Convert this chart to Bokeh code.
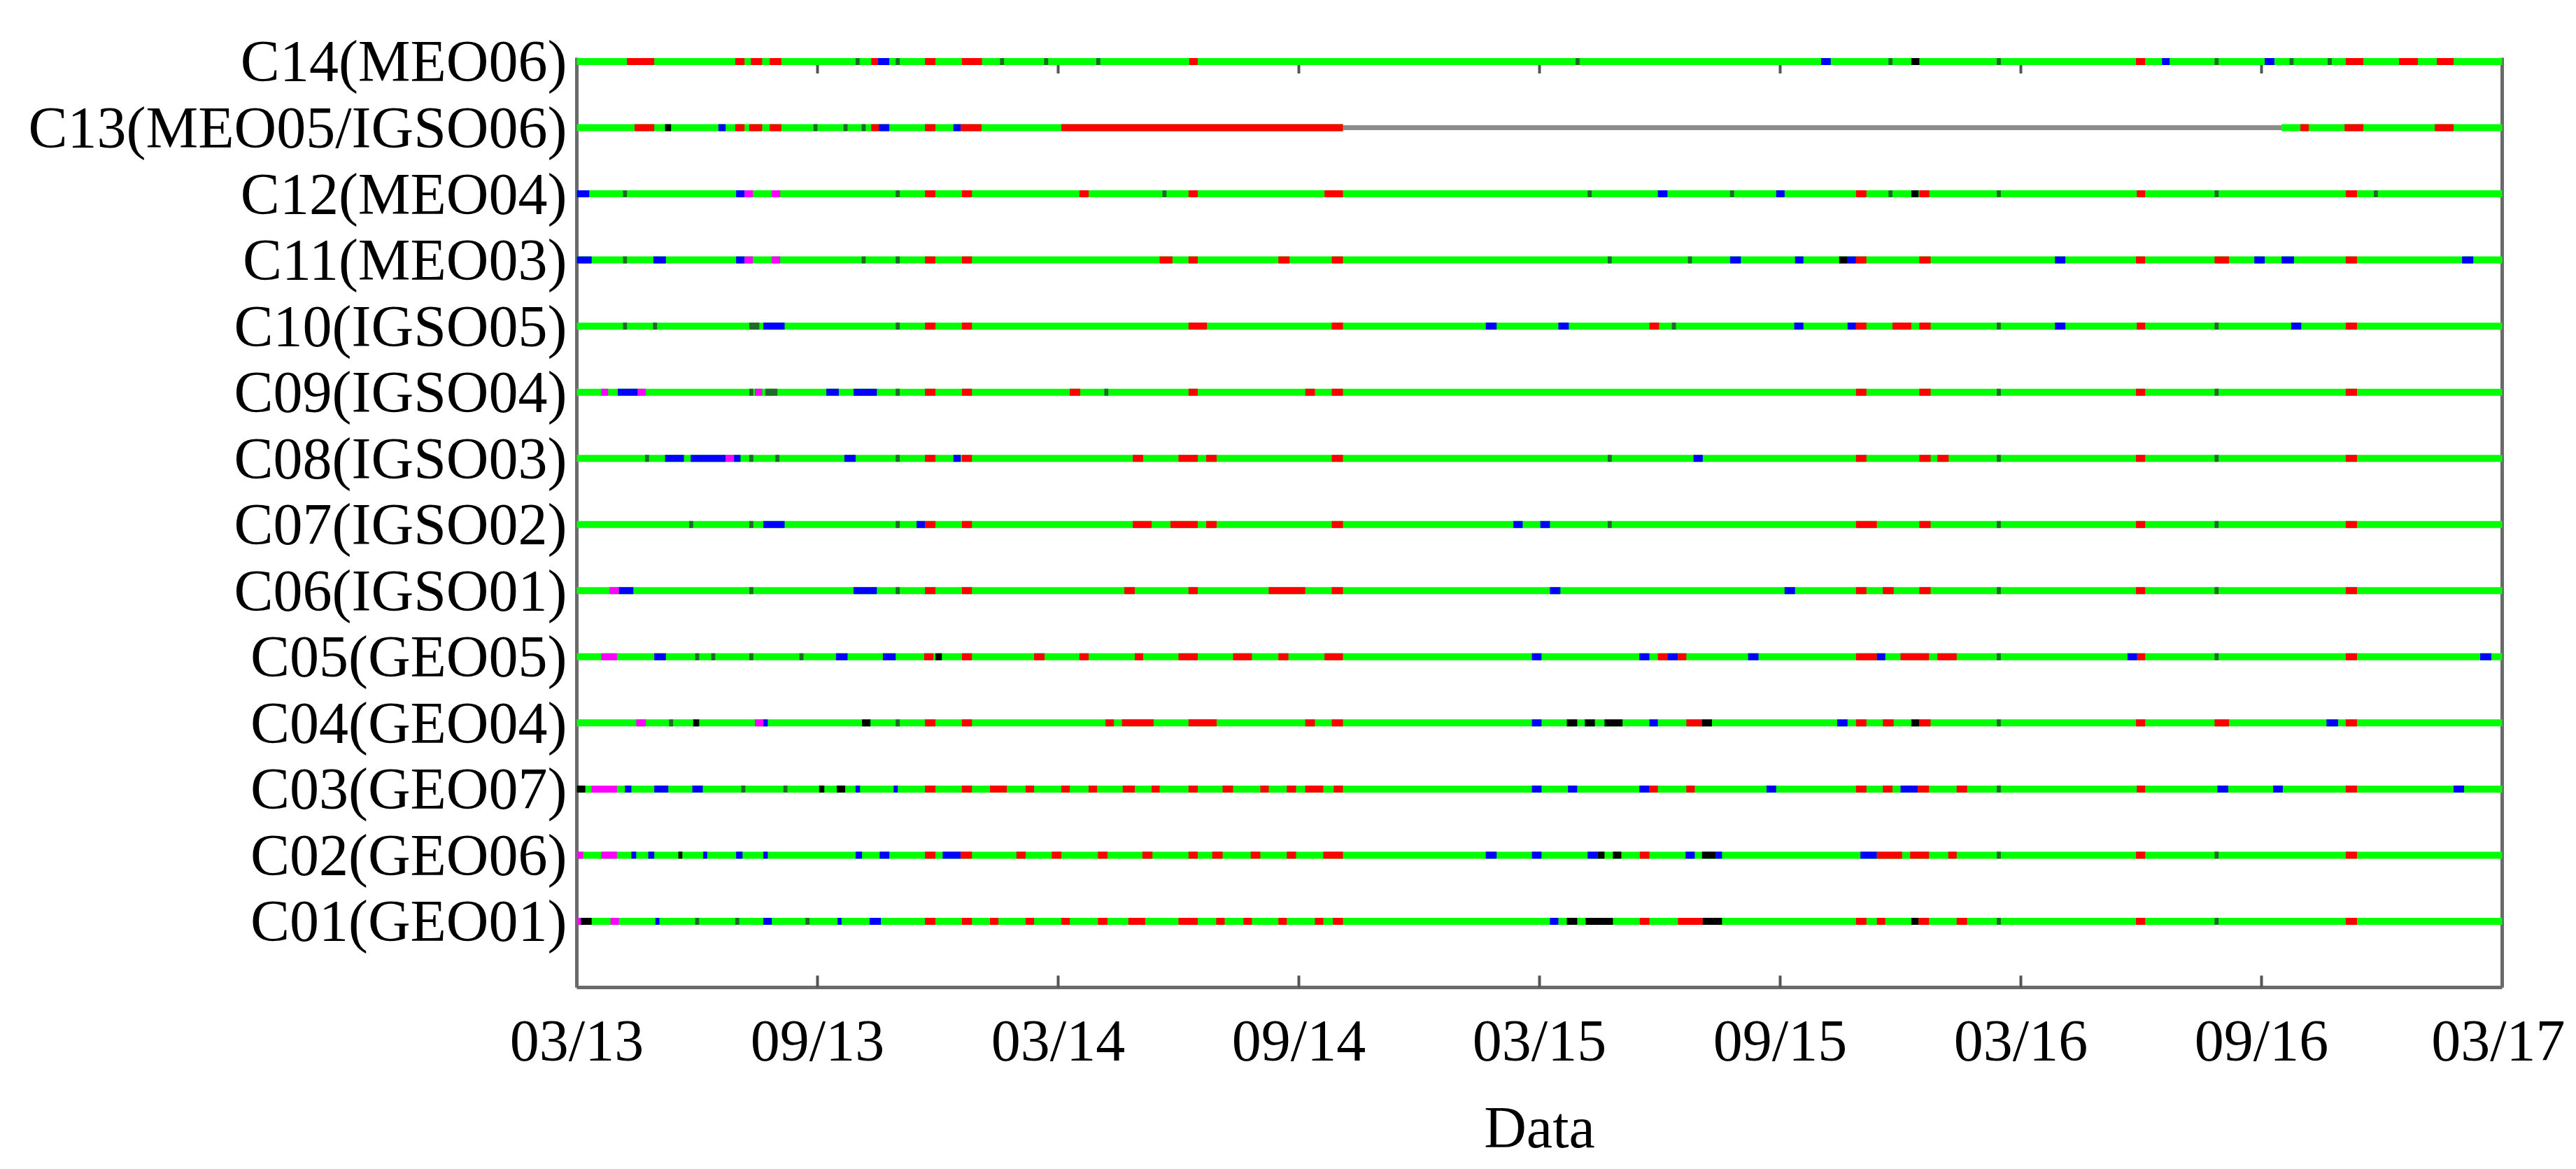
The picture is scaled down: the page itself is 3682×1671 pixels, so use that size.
from bokeh.plotting import figure
from bokeh.models import ColumnDataSource, Range1d, FixedTicker, LinearAxis
from bokeh.embed import file_html
from bokeh.resources import INLINE

# x = months since March 2013 (0 .. 48 = March 2017)
TICKS = [0, 6, 12, 18, 24, 30, 36, 42, 48]
TICK_LABELS = ["03/13", "09/13", "03/14", "09/14", "03/15", "09/15", "03/16", "09/16", "03/17"]

SATS = ["C01(GEO01)", "C02(GEO06)", "C03(GEO07)", "C04(GEO04)", "C05(GEO05)",
        "C06(IGSO01)", "C07(IGSO02)", "C08(IGSO03)", "C09(IGSO04)", "C10(IGSO05)",
        "C11(MEO03)", "C12(MEO04)", "C13(MEO05/IGSO06)", "C14(MEO06)"]

START, END = 0, 48
C13_GAP = (19.1, 42.5)   # no data (grey)

# status segments: (start month, end month, code)
C14 = [(1.25,1.93,"r"),(3.95,4.18,"r"),(4.34,4.62,"r"),(4.81,5.10,"r"),(6.95,7.05,"d"),(7.34,7.51,"r"),(7.51,7.79,"b"),
       (7.95,8.05,"d"),(8.68,8.94,"r"),(9.6,10.1,"r"),(10.55,10.65,"d"),(11.65,11.75,"d"),(12.95,13.05,"d"),(15.27,15.48,"r"),
       (24.9,25.0,"d"),(31.02,31.26,"b"),(32.7,32.8,"d"),(33.27,33.47,"k"),(35.4,35.5,"d"),(38.87,39.1,"r"),(39.52,39.71,"b"),
       (40.83,40.93,"d"),(42.08,42.32,"b"),(42.7,42.8,"d"),(43.65,43.75,"d"),(44.1,44.54,"r"),(45.43,45.9,"r"),(46.37,46.79,"r")]
C13 = [(1.44,1.93,"r"),(2.2,2.35,"k"),(3.53,3.71,"b"),(3.95,4.18,"r"),(4.3,4.62,"r"),(4.81,5.10,"r"),(5.9,6.0,"d"),
       (6.65,6.75,"d"),(7.1,7.2,"d"),(7.34,7.53,"r"),(7.53,7.79,"b"),(8.68,8.94,"r"),(9.39,9.57,"b"),(9.57,10.09,"r"),
       (12.08,19.1,"r"),(42.97,43.18,"r"),(44.07,44.54,"r"),(46.32,46.79,"r")]
C12 = [(0,0.31,"b"),(1.15,1.25,"d"),(3.97,4.18,"b"),(4.18,4.39,"m"),(4.86,5.07,"m"),(7.95,8.05,"d"),(8.68,8.94,"r"),
       (9.6,9.85,"r"),(12.53,12.76,"r"),(14.6,14.7,"d"),(15.25,15.48,"r"),(18.64,19.1,"r"),(25.2,25.3,"d"),(26.95,27.19,"b"),
       (28.75,28.85,"d"),(29.9,30.11,"b"),(31.89,32.15,"r"),(32.7,32.8,"d"),(33.27,33.45,"k"),(33.47,33.72,"r"),
       (35.4,35.5,"d"),(38.89,39.1,"r"),(40.83,40.93,"d"),(44.1,44.38,"r"),(44.8,44.9,"d")]
C11 = [(0,0.37,"b"),(1.15,1.25,"d"),(1.91,2.22,"b"),(3.97,4.18,"b"),(4.18,4.39,"m"),(4.86,5.07,"m"),(7.1,7.2,"d"),
       (7.95,8.05,"d"),(8.68,8.94,"r"),(9.6,9.85,"r"),(14.53,14.85,"r"),(15.25,15.48,"r"),(17.49,17.77,"r"),(18.82,19.1,"r"),
       (25.7,25.8,"d"),(27.7,27.8,"d"),(28.75,29.02,"b"),(30.37,30.58,"b"),(31.47,31.68,"k"),(31.68,31.89,"b"),
       (31.89,32.15,"r"),(33.47,33.75,"r"),(36.85,37.11,"b"),(38.87,39.1,"r"),(40.83,41.19,"r"),(41.82,42.08,"b"),
       (42.5,42.81,"b"),(44.1,44.38,"r"),(47.0,47.28,"b")]
C10 = [(1.15,1.25,"d"),(1.9,2.0,"d"),(4.3,4.55,"d"),(4.65,5.18,"b"),(7.95,8.05,"d"),(8.68,8.94,"r"),(9.6,9.85,"r"),
       (15.25,15.71,"r"),(18.82,19.1,"r"),(22.66,22.93,"b"),(24.47,24.73,"b"),(26.74,26.98,"r"),(27.3,27.4,"d"),
       (30.35,30.58,"b"),(31.68,31.89,"b"),(31.89,32.15,"r"),(32.8,33.27,"r"),(33.47,33.75,"r"),(35.4,35.5,"d"),
       (36.85,37.11,"b"),(38.89,39.1,"r"),(40.83,40.93,"d"),(42.74,42.99,"b"),(44.1,44.38,"r")]
C09 = [(0.61,0.78,"m"),(1.02,1.52,"b"),(1.52,1.72,"m"),(4.3,4.4,"d"),(4.44,4.62,"m"),(4.7,5.0,"d"),(6.22,6.53,"b"),
       (6.9,7.48,"b"),(7.95,8.05,"d"),(8.68,8.94,"r"),(9.6,9.85,"r"),(12.29,12.55,"r"),(13.15,13.25,"d"),(15.25,15.48,"r"),
       (18.16,18.4,"r"),(18.82,19.1,"r"),(31.89,32.15,"r"),(33.47,33.75,"r"),(35.4,35.5,"d"),(38.87,39.1,"r"),
       (40.83,40.93,"d"),(44.1,44.38,"r")]
C08 = [(1.7,1.8,"d"),(2.2,2.67,"b"),(2.84,3.71,"b"),(3.71,3.92,"m"),(3.92,4.08,"b"),(4.3,4.4,"d"),(4.95,5.05,"d"),
       (6.67,6.95,"b"),(7.95,8.05,"d"),(8.68,8.94,"r"),(9.39,9.57,"b"),(9.6,9.85,"r"),(13.86,14.12,"r"),(15.0,15.48,"r"),
       (15.69,15.95,"r"),(18.82,19.1,"r"),(25.7,25.8,"d"),(27.84,28.07,"b"),(31.89,32.15,"r"),(33.47,33.75,"r"),
       (33.92,34.2,"r"),(35.4,35.5,"d"),(38.87,39.1,"r"),(40.83,40.93,"d"),(44.1,44.38,"r")]
C07 = [(2.8,2.9,"d"),(4.3,4.4,"d"),(4.65,5.18,"b"),(7.95,8.05,"d"),(8.47,8.68,"b"),(8.68,8.94,"r"),(9.6,9.85,"r"),
       (13.86,14.33,"r"),(14.8,15.48,"r"),(15.69,15.95,"r"),(18.82,19.1,"r"),(23.35,23.58,"b"),(24.02,24.26,"b"),
       (25.7,25.8,"d"),(31.89,32.41,"r"),(33.47,33.75,"r"),(35.4,35.5,"d"),(38.87,39.1,"r"),(40.83,40.93,"d"),
       (44.1,44.38,"r")]
C06 = [(0.82,1.05,"m"),(1.05,1.41,"b"),(4.3,4.4,"d"),(6.9,7.48,"b"),(7.95,8.05,"d"),(8.68,8.94,"r"),(9.6,9.85,"r"),
       (13.65,13.91,"r"),(15.25,15.48,"r"),(17.25,18.16,"r"),(18.82,19.1,"r"),(24.26,24.52,"b"),(30.11,30.37,"b"),
       (31.89,32.15,"r"),(32.56,32.83,"r"),(33.47,33.75,"r"),(35.4,35.5,"d"),(38.87,39.1,"r"),(40.83,40.93,"d"),
       (44.1,44.38,"r")]
C05 = [(0.61,1.0,"m"),(1.93,2.22,"b"),(2.95,3.05,"d"),(3.35,3.45,"d"),(4.3,4.4,"d"),(5.55,5.65,"d"),(6.46,6.75,"b"),
       (7.63,7.95,"b"),(8.66,8.89,"r"),(8.94,9.1,"k"),(9.6,9.85,"r"),(11.4,11.66,"r"),(12.53,12.76,"r"),(13.91,14.12,"r"),
       (15.0,15.48,"r"),(16.36,16.83,"r"),(17.49,17.74,"r"),(18.64,19.1,"r"),(23.81,24.05,"b"),(26.49,26.74,"b"),
       (26.95,27.19,"r"),(27.19,27.45,"b"),(27.45,27.66,"r"),(29.2,29.46,"b"),(31.89,32.41,"r"),(32.41,32.62,"b"),
       (33.0,33.71,"r"),(33.92,34.4,"r"),(35.4,35.5,"d"),(38.66,38.9,"b"),(38.9,39.1,"r"),(40.83,40.93,"d"),
       (44.1,44.38,"r"),(47.45,47.73,"b")]
C04 = [(1.48,1.72,"m"),(2.3,2.4,"d"),(2.9,3.05,"k"),(4.44,4.65,"m"),(4.65,4.76,"b"),(7.11,7.32,"k"),(7.95,8.05,"d"),
       (8.68,8.94,"r"),(9.6,9.85,"r"),(13.18,13.39,"r"),(13.59,14.38,"r"),(15.25,15.95,"r"),(18.16,18.4,"r"),
       (18.82,19.1,"r"),(23.81,24.05,"b"),(24.68,24.94,"k"),(25.13,25.38,"k"),(25.62,26.07,"k"),(26.74,26.95,"b"),
       (27.66,28.05,"r"),(28.05,28.3,"k"),(31.42,31.68,"b"),(31.89,32.15,"r"),(32.56,32.83,"r"),(33.27,33.47,"k"),
       (33.47,33.75,"r"),(35.4,35.5,"d"),(38.87,39.1,"r"),(40.83,41.19,"r"),(43.62,43.91,"b"),(44.1,44.38,"r")]
C03 = [(0,0.21,"k"),(0.37,1.0,"m"),(1.2,1.36,"b"),(1.93,2.28,"b"),(2.88,3.14,"b"),(4.1,4.2,"d"),(5.15,5.25,"d"),
       (6.04,6.17,"k"),(6.48,6.69,"k"),(6.95,7.06,"b"),(7.9,8.0,"b"),(8.68,8.94,"r"),(9.6,9.85,"r"),(10.3,10.72,"r"),
       (11.19,11.4,"r"),(12.08,12.29,"r"),(12.76,12.97,"r"),(13.61,13.91,"r"),(14.33,14.53,"r"),(15.25,15.48,"r"),
       (16.1,16.36,"r"),(17.04,17.25,"r"),(17.7,17.93,"r"),(18.16,18.61,"r"),(18.87,19.1,"r"),(23.81,24.05,"b"),
       (24.71,24.94,"b"),(26.49,26.74,"b"),(26.74,26.95,"r"),(27.66,27.87,"r"),(29.66,29.9,"b"),(31.89,32.15,"r"),
       (32.56,32.8,"r"),(33.0,33.43,"b"),(33.43,33.71,"r"),(34.4,34.66,"r"),(35.4,35.5,"d"),(38.89,39.1,"r"),
       (40.9,41.17,"b"),(42.29,42.53,"b"),(44.1,44.38,"r"),(46.79,47.05,"b")]
C02 = [(0,0.16,"m"),(0.61,1.0,"m"),(1.36,1.48,"b"),(1.78,1.93,"b"),(2.53,2.63,"k"),(3.15,3.25,"b"),(3.97,4.13,"b"),
       (4.65,4.76,"b"),(6.95,7.11,"b"),(7.55,7.79,"b"),(8.68,8.94,"r"),(9.12,9.57,"b"),(9.57,9.85,"r"),(10.96,11.19,"r"),
       (11.84,12.08,"r"),(12.99,13.23,"r"),(14.1,14.35,"r"),(15.25,15.48,"r"),(15.84,16.1,"r"),(16.8,17.04,"r"),
       (17.7,17.93,"r"),(18.61,19.1,"r"),(22.66,22.93,"b"),(23.81,24.05,"b"),(25.2,25.45,"b"),(25.45,25.62,"k"),
       (25.83,26.04,"k"),(26.5,26.74,"r"),(27.64,27.87,"b"),(28.05,28.39,"k"),(28.39,28.55,"b"),(32.0,32.41,"b"),
       (32.41,33.04,"r"),(33.24,33.71,"r"),(34.19,34.4,"r"),(35.4,35.5,"d"),(38.87,39.1,"r"),(40.83,40.93,"d"),
       (44.1,44.38,"r")]
C01 = [(0,0.1,"m"),(0.1,0.37,"k"),(0.84,1.05,"m"),(1.96,2.06,"b"),(2.95,3.05,"d"),(3.95,4.05,"d"),(4.65,4.86,"b"),
       (5.7,5.8,"d"),(6.5,6.6,"b"),(7.3,7.58,"b"),(8.68,8.94,"r"),(9.6,9.85,"r"),(10.3,10.51,"r"),(11.19,11.4,"r"),
       (12.08,12.29,"r"),(12.99,13.23,"r"),(13.75,14.17,"r"),(15.0,15.48,"r"),(15.94,16.15,"r"),(16.62,16.83,"r"),
       (17.49,17.7,"r"),(18.4,18.61,"r"),(18.85,19.1,"r"),(24.26,24.47,"b"),(24.68,24.94,"k"),(25.15,25.83,"k"),
       (26.5,26.74,"r"),(27.45,28.07,"r"),(28.07,28.55,"k"),(31.89,32.15,"r"),(32.41,32.62,"r"),(33.27,33.45,"k"),
       (33.45,33.71,"r"),(34.4,34.66,"r"),(35.4,35.5,"d"),(38.87,39.1,"r"),(40.83,40.93,"d"),(44.1,44.38,"r")]

SEGMENTS = [C01, C02, C03, C04, C05, C06, C07, C08, C09, C10, C11, C12, C13, C14]
COLORS = {"r": "#ff0000", "b": "#0000ff", "m": "#ff00ff", "k": "#000000", "d": "#1f6a2a"}
GREEN = "#00ff00"
GREY = "#8c8c8c"
FONT = "Liberation Serif"
AX_COLOR = "#6a6a6a"
TICK_COLOR = "#555555"

# layout (pixels)
W, H = 3666, 1660
MB_L, MB_R, MB_T, MB_B = 824, 90, 82, 246
Y_TOP = 14.058
TICK_PX = 17

# base (green) spans and grey outage
bx0, bx1, by = [], [], []
for i, sat in enumerate(SATS):
    y = i + 1
    if sat.startswith("C13"):
        bx0 += [START, C13_GAP[1]]
        bx1 += [C13_GAP[0], END]
        by += [y, y]
    else:
        bx0.append(START); bx1.append(END); by.append(y)
base = ColumnDataSource(dict(x0=bx0, x1=bx1, y=by))
gap = ColumnDataSource(dict(x0=[C13_GAP[0]], x1=[C13_GAP[1]], y=[SATS.index("C13(MEO05/IGSO06)") + 1]))

sx0, sx1, sy, sc = [], [], [], []
for i, segs in enumerate(SEGMENTS):
    for a, b, c in segs:
        sx0.append(a); sx1.append(b); sy.append(i + 1); sc.append(COLORS[c])
status = ColumnDataSource(dict(x0=sx0, x1=sx1, y=sy, c=sc))

p = figure(width=W, height=H, output_backend="svg", toolbar_location=None,
           x_range=Range1d(START, END), y_range=Range1d(0, Y_TOP),
           min_border_left=MB_L, min_border_right=MB_R, min_border_top=MB_T, min_border_bottom=MB_B)
p.background_fill_color = "white"
p.border_fill_color = "white"
p.outline_line_color = None
p.xgrid.visible = False
p.ygrid.visible = False

# inward ticks along the top edge (the top row sits on the top border)
px_per_unit = (H - MB_T - MB_B) / Y_TOP
top_y = len(SATS)
tick_src = ColumnDataSource(dict(x=TICKS[1:-1], y0=[top_y] * (len(TICKS) - 2),
                                 y1=[top_y - TICK_PX / px_per_unit] * (len(TICKS) - 2)))
p.segment(x0="x", y0="y0", x1="x", y1="y1", source=tick_src, line_color=TICK_COLOR, line_width=4)

r1 = p.segment(x0="x0", y0="y", x1="x1", y1="y", source=base, line_color=GREEN, line_width=10, line_cap="butt")
r2 = p.segment(x0="x0", y0="y", x1="x1", y1="y", source=gap, line_color=GREY, line_width=7, line_cap="butt")
r3 = p.segment(x0="x0", y0="y", x1="x1", y1="y", source=status, line_color="c", line_width=10, line_cap="butt")
for r in (r1, r2, r3):
    r.level = "overlay"

xa = p.xaxis[0]
xa.ticker = FixedTicker(ticks=TICKS)
xa.major_label_overrides = {t: l for t, l in zip(TICKS, TICK_LABELS)}
xa.major_tick_in = TICK_PX
xa.major_tick_out = 0
xa.minor_tick_in = 0
xa.minor_tick_out = 0
xa.major_tick_line_width = 4
xa.major_tick_line_color = TICK_COLOR
xa.axis_line_width = 5
xa.axis_line_color = AX_COLOR
xa.major_label_standoff = 29
xa.major_label_text_font = FONT
xa.major_label_text_font_size = "84px"
xa.major_label_text_color = "black"
xa.axis_label = "Data"
xa.axis_label_text_font = FONT
xa.axis_label_text_font_size = "84px"
xa.axis_label_text_font_style = "normal"
xa.axis_label_text_color = "black"
xa.axis_label_standoff = 28

ya = p.yaxis[0]
ya.ticker = FixedTicker(ticks=list(range(1, len(SATS) + 1)))
ya.major_label_overrides = {i + 1: s for i, s in enumerate(SATS)}
ya.major_tick_in = 0
ya.major_tick_out = 0
ya.minor_tick_in = 0
ya.minor_tick_out = 0
ya.axis_line_width = 5
ya.axis_line_color = AX_COLOR
ya.major_label_standoff = 14
ya.major_label_text_font = FONT
ya.major_label_text_font_size = "84px"
ya.major_label_text_color = "black"

right = LinearAxis(ticker=FixedTicker(ticks=[]), major_tick_in=0, major_tick_out=0,
                   minor_tick_in=0, minor_tick_out=0, axis_line_width=5, axis_line_color=AX_COLOR,
                   major_label_standoff=0)
p.add_layout(right, "right")

open("out.html", "w").write(file_html(p, INLINE))
